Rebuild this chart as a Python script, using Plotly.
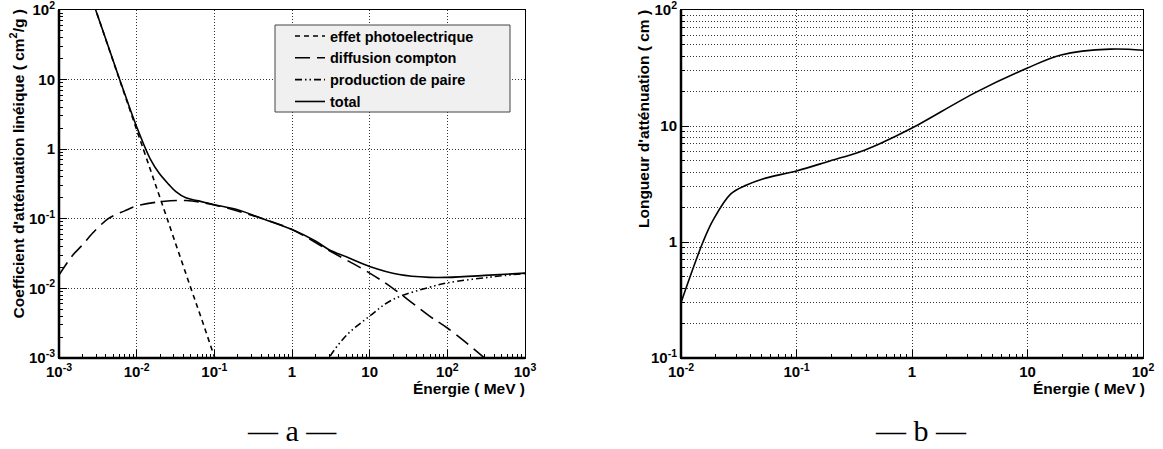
import plotly.graph_objects as go

W, H = 1163, 449

# ---------------- data: panel a (cm^2/g) ----------------
photo_E = [0.002, 0.003, 0.005, 0.007, 0.01, 0.015, 0.02, 0.03, 0.05, 0.07, 0.1, 0.12]
photo_mu = [363, 97, 18.2, 6.1, 1.9, 0.51, 0.20, 0.053, 0.010, 0.0034, 0.00105, 0.0006]

compton_E = [0.001, 0.0015, 0.002, 0.0027, 0.0044, 0.007, 0.01, 0.0214, 0.043, 0.1,
             0.37, 1, 3, 10, 19.7, 59, 100, 287, 400]
compton_mu = [0.0156, 0.030, 0.042, 0.062, 0.102, 0.13, 0.153, 0.177, 0.183, 0.158,
              0.105, 0.070, 0.035, 0.0166, 0.0101, 0.0040, 0.0027, 0.00105, 0.00075]

pair_E = [2.5, 3.0, 5, 10, 19.7, 59, 100, 350, 1000]
pair_mu = [0.0006, 0.001, 0.0021, 0.0040, 0.0069, 0.0104, 0.012, 0.0145, 0.0164]

total_E = [0.002, 0.003, 0.005, 0.007, 0.01, 0.015, 0.0195, 0.026, 0.032, 0.043, 0.063,
           0.1, 0.2, 0.4, 1, 2, 3, 5, 10, 24, 59, 100, 350, 1000]
total_mu = [363, 97, 18.5, 6.3, 2.1, 0.72, 0.45, 0.31, 0.246, 0.20, 0.181,
            0.159, 0.135, 0.102, 0.070, 0.048, 0.036, 0.0284, 0.0207, 0.0158, 0.0144,
            0.0144, 0.0155, 0.0166]

# ---------------- data: panel b (cm) ----------------
len_E = [0.01, 0.0155, 0.019, 0.027, 0.037, 0.051, 0.1, 0.195, 0.356, 0.52, 1,
         3.6, 10, 19.5, 52, 100]
len_cm = [0.30, 1.0, 1.55, 2.6, 3.1, 3.5, 4.1, 5.0, 6.0, 7.0, 9.6,
          19.6, 31.6, 41, 46, 45]

# tick labels
xa_vals = [1e-3, 1e-2, 1e-1, 1, 10, 100, 1000]
xa_text = ["10<sup>-3</sup>", "10<sup>-2</sup>", "10<sup>-1</sup>", "1", "10", "10<sup>2</sup>", "10<sup>3</sup>"]
ya_vals = [1e-3, 1e-2, 1e-1, 1, 10, 100]
ya_text = ["10<sup>-3</sup>", "10<sup>-2</sup>", "10<sup>-1</sup>", "1", "10", "10<sup>2</sup>"]
xb_vals = [1e-2, 1e-1, 1, 10, 100]
xb_text = ["10<sup>-2</sup>", "10<sup>-1</sup>", "1", "10", "10<sup>2</sup>"]
yb_vals = [0.1, 1, 10, 100]
yb_text = ["10<sup>-1</sup>", "1", "10", "10<sup>2</sup>"]

legend_names = ["effet photoelectrique", "diffusion compton", "production de paire", "total"]


def minor_vals(d0, d1):
    return [k * 10.0 ** d for d in range(d0, d1) for k in range(2, 10)]


fig = go.Figure()
LW = 1.6
fig.add_trace(go.Scatter(x=photo_E, y=photo_mu, mode="lines", name=legend_names[0],
                         line=dict(color="black", width=LW, dash="5px,4px", shape="spline"),
                         xaxis="x", yaxis="y"))
fig.add_trace(go.Scatter(x=compton_E, y=compton_mu, mode="lines", name=legend_names[1],
                         line=dict(color="black", width=LW, dash="15px,7px", shape="spline"),
                         xaxis="x", yaxis="y"))
fig.add_trace(go.Scatter(x=pair_E, y=pair_mu, mode="lines", name=legend_names[2],
                         line=dict(color="black", width=LW, dash="7px,3px,1.5px,3px,1.5px,3px", shape="spline"),
                         xaxis="x", yaxis="y"))
fig.add_trace(go.Scatter(x=total_E, y=total_mu, mode="lines", name=legend_names[3],
                         line=dict(color="black", width=LW, shape="spline"),
                         xaxis="x", yaxis="y"))
fig.add_trace(go.Scatter(x=len_E, y=len_cm, mode="lines", showlegend=False,
                         line=dict(color="black", width=LW, shape="spline"),
                         xaxis="x2", yaxis="y2"))

tickfont = dict(family="Liberation Sans, Arial, sans-serif", size=15, color="black", weight="bold")
gridc = "#333333"
GD = "1px,2px"


def ax(domain, rng, vals, text, mvals, anchor, minor_grid=False, major_grid=True):
    return dict(type="log", domain=domain, range=rng, anchor=anchor, automargin=False,
                ticklabeloverflow="allow",
                tickmode="array", tickvals=vals, ticktext=text,
                ticks="inside", ticklen=8, tickwidth=1, tickcolor="black",
                showline=True, linecolor="black", linewidth=1, mirror=True,
                showgrid=major_grid, gridcolor=gridc, griddash=GD, gridwidth=1,
                zeroline=False, tickfont=tickfont,
                minor=dict(tickmode="array", tickvals=mvals, ticks="inside", ticklen=4,
                           tickcolor="black", tickwidth=1,
                           showgrid=minor_grid, gridcolor=gridc, griddash=GD, gridwidth=1))


xl0, xl1 = 59 / W, 525 / W
xr0, xr1 = 681 / W, 1143 / W
yb0, yb1 = 1 - 358 / H, 1 - 10 / H

fig.update_layout(
    width=W, height=H,
    margin=dict(l=0, r=0, t=0, b=0, autoexpand=False),
    paper_bgcolor="white", plot_bgcolor="white",
    xaxis=ax([xl0, xl1], [-3, 3], xa_vals, xa_text, minor_vals(-3, 3), "y"),
    yaxis=ax([yb0, yb1], [-3, 2], ya_vals, ya_text, minor_vals(-3, 2), "x"),
    xaxis2=ax([xr0, xr1], [-2, 2], xb_vals, xb_text, minor_vals(-2, 2), "y2"),
    yaxis2=ax([yb0, yb1], [-1, 2], yb_vals, yb_text, minor_vals(-1, 2), "x2", minor_grid=True),
    showlegend=True,
    legend=dict(x=290 / W, y=1 - 20 / H, xanchor="left", yanchor="top",
                bgcolor="rgba(0,0,0,0)", borderwidth=0,
                font=dict(family="Liberation Sans, Arial, sans-serif", size=14.5, color="black", weight="bold"),
                tracegroupgap=0),
)

# legend frame (ROOT-style light grey box)
fig.add_shape(type="rect", xref="paper", yref="paper", x0=275 / W, x1=510 / W, y0=1 - 112 / H, y1=1 - 25 / H,
              fillcolor="#f0f0f0", line=dict(color="#444444", width=1), layer="above")

# thicker bottom/left frame lines like ROOT
for xr, yr in (("x", "y"), ("x2", "y2")):
    fig.add_shape(type="line", xref=f"{xr} domain", yref=f"{yr} domain", x0=0, x1=1, y0=0, y1=0,
                  line=dict(color="black", width=2.5), layer="above")
    fig.add_shape(type="line", xref=f"{xr} domain", yref=f"{yr} domain", x0=0, x1=0, y0=0, y1=1,
                  line=dict(color="black", width=2.5), layer="above")

titlefont = dict(family="Liberation Sans, Arial, sans-serif", size=15.5, color="black", weight="bold")
fig.add_annotation(text="Énergie ( MeV )", xref="paper", yref="paper", x=527 / W, y=1 - 388 / H,
                   xanchor="right", yanchor="middle", showarrow=False, font=titlefont)
fig.add_annotation(text="Énergie ( MeV )", xref="paper", yref="paper", x=1147 / W, y=1 - 388 / H,
                   xanchor="right", yanchor="middle", showarrow=False, font=titlefont)
fig.add_annotation(text="Coefficient d'atténuation linéique ( cm<sup>2</sup>/g )", xref="paper", yref="paper",
                   x=17 / W, y=1 - 8 / H, xanchor="center", yanchor="top", textangle=-90,
                   showarrow=False, font=titlefont)
fig.add_annotation(text="Longueur d'atténuation ( cm )", xref="paper", yref="paper",
                   x=643 / W, y=1 - 8 / H, xanchor="center", yanchor="top", textangle=-90,
                   showarrow=False, font=titlefont)

capfont = dict(family="Liberation Serif, DejaVu Serif, serif", size=30, color="black")
fig.add_annotation(text="— a —", xref="paper", yref="paper", x=292 / W, y=1 - 430 / H,
                   xanchor="center", yanchor="middle", showarrow=False, font=capfont)
fig.add_annotation(text="— b —", xref="paper", yref="paper", x=921 / W, y=1 - 430 / H,
                   xanchor="center", yanchor="middle", showarrow=False, font=capfont)

fig.write_html("out.html", config={"displayModeBar": False},
               post_script="document.body.style.margin='0';document.body.style.overflow='hidden';")
